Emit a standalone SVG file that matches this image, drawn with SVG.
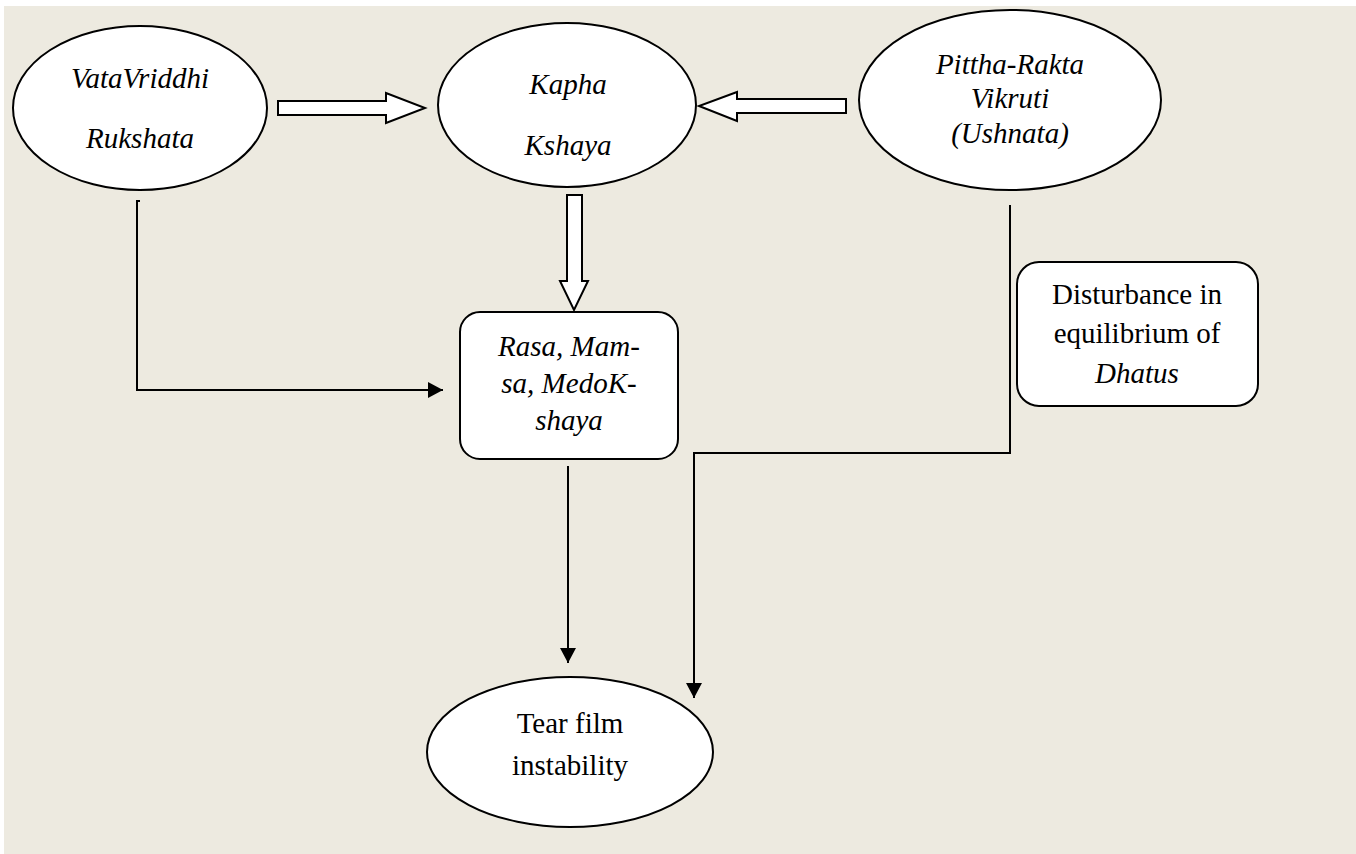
<svg xmlns="http://www.w3.org/2000/svg" width="1356" height="854" viewBox="0 0 1356 854">
<defs>
<style>
.shape{fill:#fff;stroke:#000;stroke-width:2}
.line{fill:none;stroke:#000;stroke-width:2}
.blk{fill:#fff;stroke:#000;stroke-width:2;stroke-linejoin:miter}
.t{font-family:"Liberation Serif","Times New Roman",serif;font-size:29px;fill:#000;text-anchor:middle}
.i{font-style:italic}
</style>
<marker id="ah" markerWidth="16" markerHeight="16" refX="15" refY="8" orient="auto" markerUnits="userSpaceOnUse">
<path d="M0,0 L15,8 L0,16 Z" fill="#000"/>
</marker>
</defs>
<rect x="0" y="0" width="1356" height="854" fill="#fff"/>
<rect x="4" y="6" width="1352" height="848" fill="#EDEAE0"/>
<g id="connectors">
<path class="blk" d="M278,101 H386 V93 L425,108 L386,123 V115 H278 Z"/>
<path class="blk" d="M846,99 H737 V92 L699,106 L737,121 V113 H846 Z"/>
<path class="blk" d="M567,195 H582 V281 H588 L574,310 L560,281 H567 Z"/>
<path class="line" d="M140,201 H137 V390 H443" marker-end="url(#ah)"/>
<path class="line" d="M568,466 V663" marker-end="url(#ah)"/>
<path class="line" d="M1010,205 V453 H694 V698" marker-end="url(#ah)"/>
</g>
<g id="vata">
<ellipse class="shape" cx="140" cy="108" rx="127" ry="82"/>
<text class="t i" x="140" y="88">VataVriddhi</text>
<text class="t i" x="140" y="148">Rukshata</text>
</g>
<g id="kapha">
<ellipse class="shape" cx="567" cy="105" rx="129" ry="82"/>
<text class="t i" x="568" y="94">Kapha</text>
<text class="t i" x="568" y="155">Kshaya</text>
</g>
<g id="pittha">
<ellipse class="shape" cx="1010" cy="100" rx="151" ry="90"/>
<text class="t i" x="1010" y="74">Pittha-Rakta</text>
<text class="t i" x="1010" y="108">Vikruti</text>
<text class="t i" x="1010" y="143">(Ushnata)</text>
</g>
<g id="rasa">
<rect class="shape" x="460" y="312" width="218" height="147" rx="20" ry="20"/>
<text class="t i" x="569" y="356">Rasa, Mam-</text>
<text class="t i" x="569" y="393">sa, MedoK-</text>
<text class="t i" x="569" y="430">shaya</text>
</g>
<g id="disturbance">
<rect class="shape" x="1017" y="262" width="241" height="144" rx="22" ry="22"/>
<text class="t" x="1137" y="304">Disturbance in</text>
<text class="t" x="1137" y="343">equilibrium of</text>
<text class="t i" x="1137" y="383">Dhatus</text>
</g>
<g id="tearfilm">
<ellipse class="shape" cx="570" cy="752" rx="143" ry="75"/>
<text class="t" x="570" y="733">Tear film</text>
<text class="t" x="570" y="775">instability</text>
</g>
</svg>
